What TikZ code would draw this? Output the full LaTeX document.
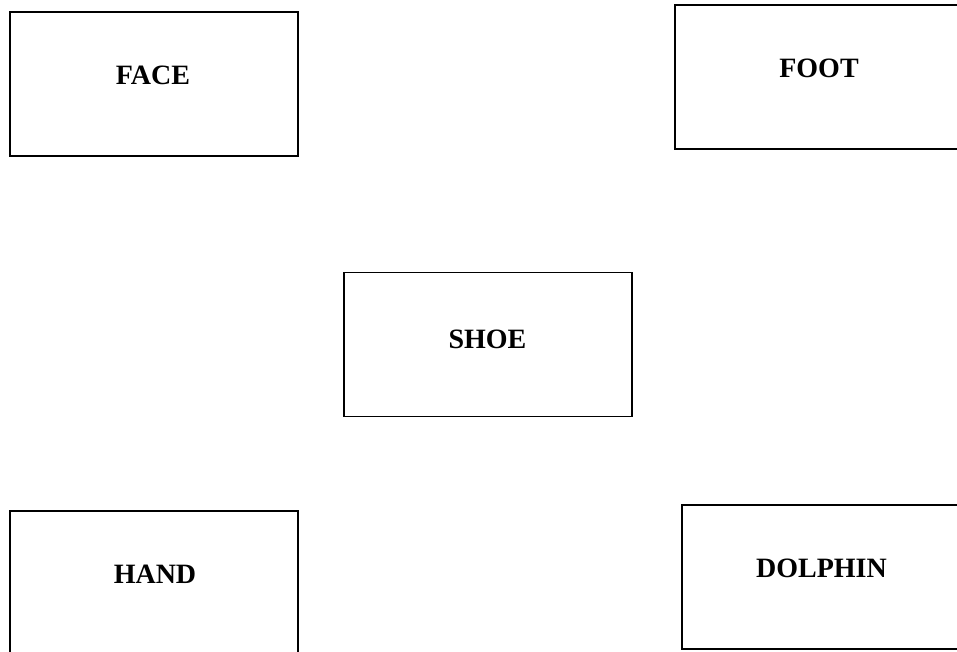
\documentclass[tikz,border=0pt]{standalone}
\usepackage{fontspec}
\setmainfont{Liberation Serif}
\usetikzlibrary{positioning}

\begin{document}
\begin{tikzpicture}[
      x=0.75pt, y=-0.75pt,
      wordbox/.style={draw, line width=1.1pt, rectangle, minimum width=216pt, minimum height=108pt, inner sep=0pt},
      word/.style={font=\fontsize{21}{25}\selectfont\bfseries, inner sep=0pt}
    ]
      \useasboundingbox (0,0) rectangle (957,651);

      % Top row
      \node (face) [wordbox] at (154,84) {};
      \node (facetext) [word] at (153,75) {FACE};

      \node (foot) [wordbox] at (819,77) {};
      \node (foottext) [word] at (819,68) {FOOT};

      % Centre
      \node (shoe) [wordbox] at (488,344.5) {};
      \node (shoetext) [word] at (487.5,339) {SHOE};

      % Bottom row
      \node (hand) [wordbox] at (154,583) {};
      \node (handtext) [word] at (155,574) {HAND};

      \node (dolphin) [wordbox] at (826,577) {};
      \node (dolphintext) [word] at (821.5,568) {DOLPHIN};
    \end{tikzpicture}
\end{document}
